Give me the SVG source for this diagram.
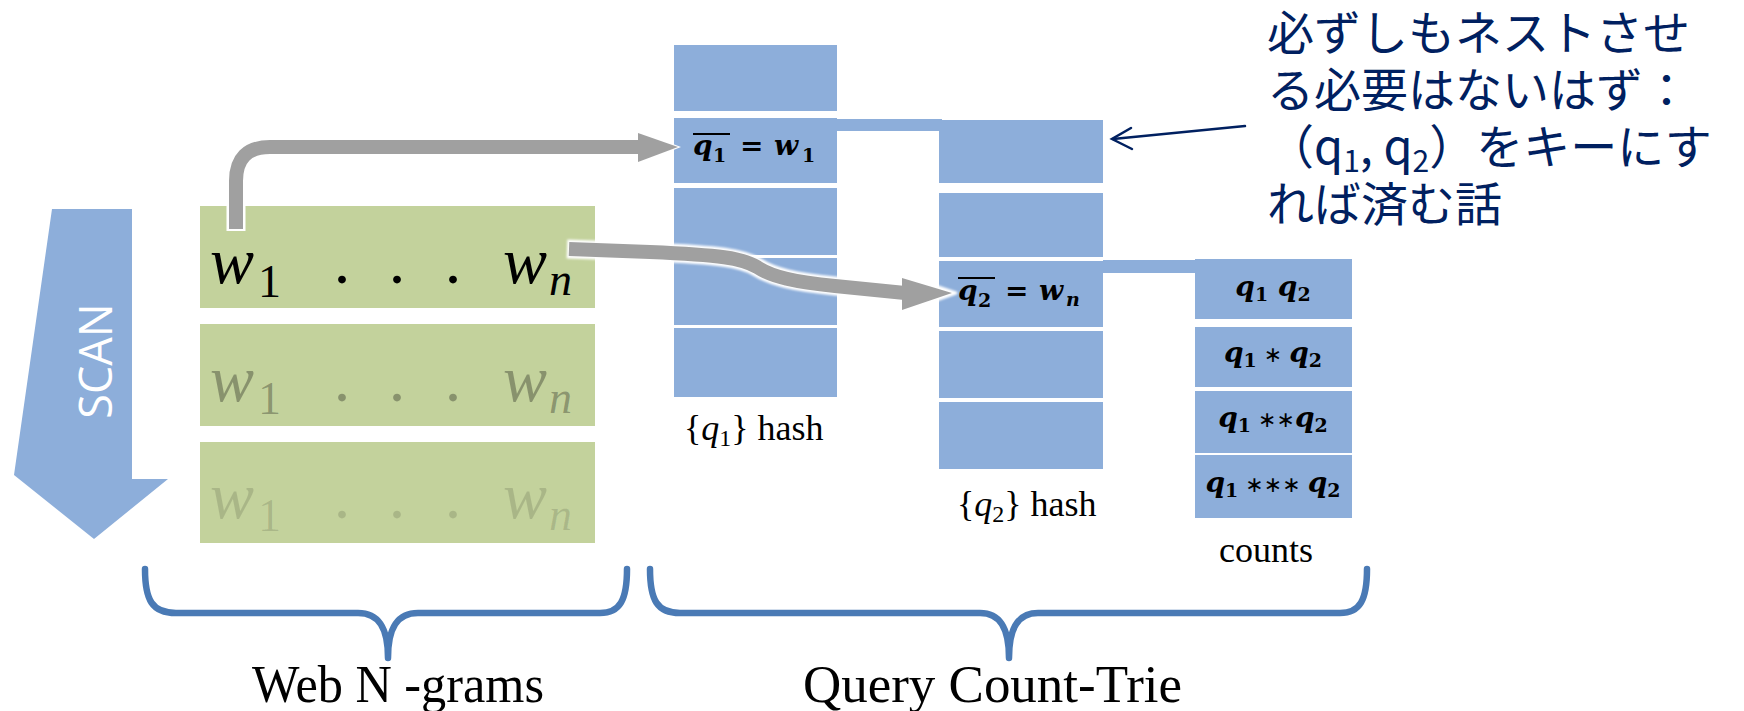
<svg xmlns="http://www.w3.org/2000/svg" width="1744" height="711" viewBox="0 0 1744 711">
<style>
.blue{fill:#8DAEDA}
.green{fill:#C3D29C}
.mb{font-family:"DejaVu Serif","Liberation Serif",serif;font-weight:bold;font-style:italic;font-size:28px;fill:#000}
.mbs{font-size:19px;font-style:normal}
.mbn{font-size:19px}
.ast{font-family:"DejaVu Sans",sans-serif;font-weight:normal;font-style:normal;font-size:22px}
.wi{font-family:"Liberation Serif",serif;font-style:italic;font-size:66px}
.ws{font-size:46px;font-style:normal}
.wn{font-size:46px}
.dot{font-family:"Liberation Serif",serif;font-size:66px;text-anchor:middle}
.tm{font-family:"Liberation Serif",serif;font-size:36px;fill:#000}
.lbl{font-family:"Liberation Serif",serif;font-size:52px;fill:#000}
.note{font-family:"Noto Sans CJK JP","Noto Sans",sans-serif;font-size:47px;fill:#002060}
.brace{fill:none;stroke:#4A7AB5;stroke-width:6.5;stroke-linecap:round;stroke-linejoin:round}
.gray{fill:none;stroke:#A0A0A0;stroke-width:14}
.halo{fill:none;stroke:#fff;stroke-width:19}
</style>
<defs>
<filter id="glow" x="-10%" y="-50%" width="120%" height="200%"><feGaussianBlur stdDeviation="1.2"/></filter>
</defs>

<g id="scan-arrow">
<polygon points="52,209 132,209 132,479 168,479 94,539 14,475" fill="#8DAEDA"/>
<text transform="translate(112,361) rotate(-90)" text-anchor="middle" font-family="Open Sans, sans-serif" font-size="45" fill="#fff">SCAN</text>
</g>

<g id="ngram-row-1">
<rect class="green" x="200" y="206" width="395" height="102"/>
<text class="wi" y="283" fill="#000"><tspan x="210">w</tspan><tspan class="ws" x="258" dy="14">1</tspan></text>
<text class="dot" y="283"><tspan x="342">.</tspan><tspan x="397">.</tspan><tspan x="453">.</tspan></text>
<text class="wi" y="283" fill="#000"><tspan x="503">w</tspan><tspan class="wn" x="549" dy="12">n</tspan></text>
</g>
<g id="ngram-row-2">
<rect class="green" x="200" y="324" width="395" height="102"/>
<g fill="#000" fill-opacity="0.3">
<text class="wi" y="401"><tspan x="210">w</tspan><tspan class="ws" x="258" dy="13">1</tspan></text>
<text class="dot" y="401"><tspan x="342">.</tspan><tspan x="397">.</tspan><tspan x="453">.</tspan></text>
<text class="wi" y="401"><tspan x="503">w</tspan><tspan class="wn" x="549" dy="12">n</tspan></text>
</g>
</g>
<g id="ngram-row-3">
<rect class="green" x="200" y="442" width="395" height="101"/>
<g fill="#000" fill-opacity="0.13">
<text class="wi" y="518"><tspan x="210">w</tspan><tspan class="ws" x="258" dy="13">1</tspan></text>
<text class="dot" y="518"><tspan x="342">.</tspan><tspan x="397">.</tspan><tspan x="453">.</tspan></text>
<text class="wi" y="518"><tspan x="503">w</tspan><tspan class="wn" x="549" dy="12">n</tspan></text>
</g>
</g>

<g id="hash-q1">
<rect class="blue" x="674" y="45" width="163" height="66"/>
<rect class="blue" x="674" y="118" width="163" height="65"/>
<rect class="blue" x="674" y="188" width="163" height="67"/>
<rect class="blue" x="674" y="258" width="163" height="67"/>
<rect class="blue" x="674" y="328" width="163" height="69"/>
<text class="mb" y="155"><tspan x="693">q</tspan><tspan class="mbs" x="713" dy="7">1</tspan><tspan x="740" dy="-7" font-style="normal">=</tspan><tspan x="774">w</tspan><tspan class="mbs" x="802" dy="7">1</tspan></text>
<line x1="693" y1="134" x2="730" y2="134" stroke="#000" stroke-width="2"/>
<text class="tm" x="684" y="440">{<tspan font-style="italic">q</tspan><tspan font-size="24" dy="6">1</tspan><tspan dy="-6">} hash</tspan></text>
</g>

<g id="hash-q2">
<rect class="blue" x="939" y="120" width="164" height="63"/>
<rect class="blue" x="939" y="193" width="164" height="64"/>
<rect class="blue" x="939" y="261" width="164" height="66"/>
<rect class="blue" x="939" y="331" width="164" height="67"/>
<rect class="blue" x="939" y="402" width="164" height="67"/>
<text class="mb" y="300"><tspan x="958">q</tspan><tspan class="mbs" x="978" dy="7">2</tspan><tspan x="1005" dy="-7" font-style="normal">=</tspan><tspan x="1039">w</tspan><tspan class="mbn" x="1066" dy="6">n</tspan></text>
<line x1="958" y1="278" x2="995" y2="278" stroke="#000" stroke-width="2"/>
<text class="tm" x="957" y="516">{<tspan font-style="italic">q</tspan><tspan font-size="24" dy="6">2</tspan><tspan dy="-6">} hash</tspan></text>
</g>

<g id="counts">
<rect class="blue" x="1195" y="259" width="157" height="60"/>
<rect class="blue" x="1195" y="327" width="157" height="60"/>
<rect class="blue" x="1195" y="391" width="157" height="62"/>
<rect class="blue" x="1195" y="455" width="157" height="63"/>
<text class="mb" x="1273" y="296" text-anchor="middle">q<tspan class="mbs" dy="5">1</tspan><tspan dy="-5"> q</tspan><tspan class="mbs" dy="5">2</tspan></text>
<text class="mb" x="1273" y="362" text-anchor="middle">q<tspan class="mbs" dy="5">1</tspan><tspan class="ast" dy="-5"> ∗ </tspan>q<tspan class="mbs" dy="5">2</tspan></text>
<text class="mb" x="1273" y="427" text-anchor="middle">q<tspan class="mbs" dy="5">1</tspan><tspan class="ast" dy="-5"> ∗∗</tspan>q<tspan class="mbs" dy="5">2</tspan></text>
<text class="mb" x="1273" y="492" text-anchor="middle">q<tspan class="mbs" dy="5">1</tspan><tspan class="ast" dy="-5"> ∗∗∗ </tspan>q<tspan class="mbs" dy="5">2</tspan></text>
<text class="tm" x="1266" y="562" text-anchor="middle">counts</text>
</g>

<g id="connectors">
<rect class="blue" x="837" y="119" width="105" height="12"/>
<rect class="blue" x="1103" y="260" width="92" height="13"/>
<g id="arrow-w1">
<path class="halo" d="M236,231 L236,181 Q236,147 270,147 L640,147" stroke-width="18"/>
<polygon points="638,131 681,147 638,164" fill="#fff"/>
<path class="gray" d="M236,229 L236,181 Q236,147 270,147 L640,147"/>
<polygon points="638,133 678,147 638,162" fill="#A0A0A0"/>
</g>
<g id="arrow-wn">
<g filter="url(#glow)">
<path class="halo" d="M567,249 L650,252 C720,255 742,258 757,267 C772,277 795,282 835,286 L905,293"/>
<polygon points="900,274 956,293 900,313" fill="#fff" stroke="#fff" stroke-width="3" stroke-linejoin="round"/>
</g>
<path class="gray" d="M569,249 L650,252 C720,255 742,258 757,267 C772,277 795,282 835,286 L905,293" stroke-width="13"/>
<polygon points="902,278 952,293 902,310" fill="#A0A0A0"/>
</g>
<g id="note-arrow" fill="none" stroke="#002060" stroke-width="2.5" stroke-linecap="round">
<line x1="1245" y1="126" x2="1113" y2="139"/>
<polyline points="1131,128 1112,139 1132,149"/>
</g>
</g>

<g id="note">
<text class="note" x="1267" y="50">必ずしもネストさせ</text>
<text class="note" x="1267" y="107">る必要はないはず：</text>
<text class="note" x="1267" y="164">（q<tspan font-size="30" dy="8">1</tspan><tspan dy="-8">, q</tspan><tspan font-size="30" dy="8">2</tspan><tspan dy="-8">）をキーにす</tspan></text>
<text class="note" x="1267" y="221">れば済む話</text>
</g>

<g id="brace-web">
<path class="brace" d="M145,569 C145,600 152,613 176,613 L358,613 C379,613 388,628 388,658 C388,628 397,613 418,613 L600,613 C620,613 627,600 627,569"/>
<text class="lbl" x="252" y="702" textLength="292" lengthAdjust="spacingAndGlyphs">Web N -grams</text>
</g>
<g id="brace-trie">
<path class="brace" d="M650,569 C650,600 657,613 680,613 L980,613 C1000,613 1009,628 1009,658 C1009,628 1018,613 1038,613 L1340,613 C1360,613 1367,600 1367,569"/>
<text class="lbl" x="803" y="702" textLength="379" lengthAdjust="spacingAndGlyphs">Query Count-Trie</text>
</g>
</svg>
